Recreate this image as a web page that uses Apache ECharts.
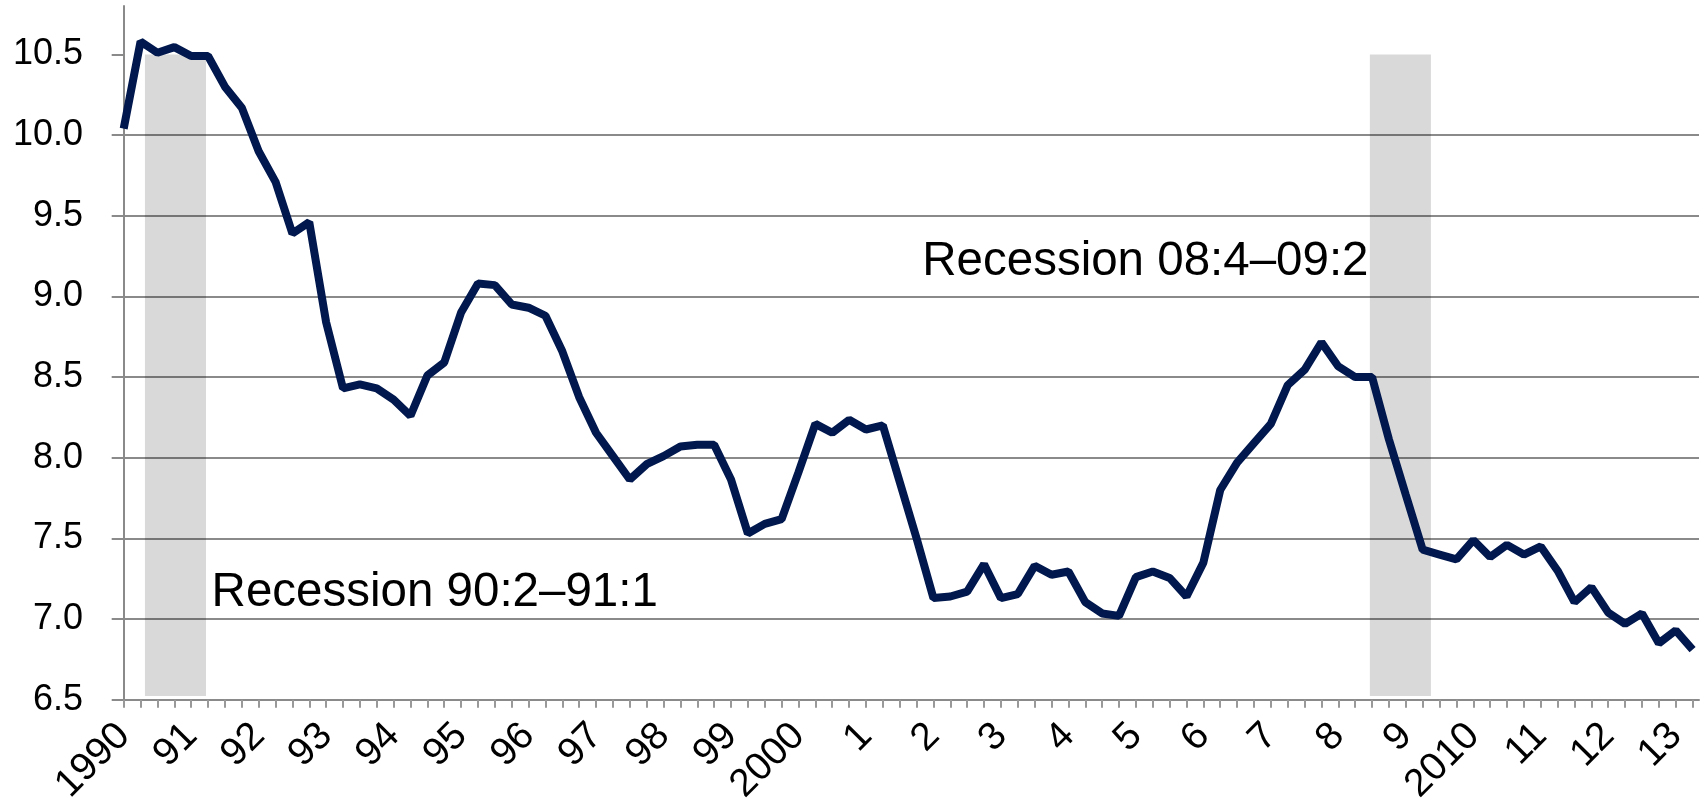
<!DOCTYPE html>
<html>
<head>
<meta charset="utf-8">
<title>Rate 1990-2013</title>
<script src="https://cdn.jsdelivr.net/npm/echarts@6/dist/echarts.min.js"></script>
<style>
  html, body { margin: 0; padding: 0; background: #fff; }
  #chart { width: 1708px; height: 807px; }
</style>
</head>
<body>
<div id="chart"></div>
<script>
// quarterly values, 1990:1 .. 2013:2
var rateValues = [
  10.04, 10.58, 10.51, 10.545, 10.49, 10.49, 10.30, 10.17, 9.90, 9.71,
  9.39, 9.46, 8.84, 8.43, 8.455, 8.43, 8.36, 8.26, 8.51, 8.59,
  8.90, 9.08, 9.07, 8.95, 8.93, 8.88, 8.66, 8.375, 8.155, 8.01,
  7.865, 7.96, 8.01, 8.07, 8.08, 8.08, 7.865, 7.53, 7.59, 7.62,
  7.91, 8.21, 8.155, 8.235, 8.175, 8.20, 7.85, 7.50, 7.13, 7.14,
  7.17, 7.34, 7.13, 7.155, 7.33, 7.275, 7.295, 7.105, 7.035, 7.02,
  7.26, 7.295, 7.255, 7.14, 7.35, 7.80, 7.97, 8.09, 8.21, 8.45,
  8.545, 8.715, 8.566, 8.50, 8.50, 8.114, 7.77, 7.43, 7.40, 7.37,
  7.49, 7.385, 7.46, 7.40, 7.45, 7.30, 7.105, 7.198, 7.04, 6.97,
  7.035, 6.85, 6.93, 6.81
];

// one label per year (every 4th quarter)
var yearLabels = [
  '1990', '91', '92', '93', '94', '95', '96', '97', '98', '99',
  '2000', '1', '2', '3', '4', '5', '6', '7', '8', '9',
  '2010', '11', '12', '13'
];

var yTicks = [6.5, 7.0, 7.5, 8.0, 8.5, 9.0, 9.5, 10.0, 10.5];

// recession shading, in quarter-index units
var recessions = [[1.26, 4.88], [73.87, 77.49]];
var recessionTop = 10.5;
var recessionBottom = 6.523;
var recessionNotes = ['Recession 90:2–91:1', 'Recession 08:4–09:2'];

var gridColor = '#8a8a8a';
var font = 'Liberation Sans, Arial, sans-serif';

function renderChart() {
  var myChart = echarts.init(document.getElementById('chart'));

  var lineData = rateValues.map(function (v, i) { return [i, v]; });
  var tickIdx = rateValues.map(function (v, i) { return i; });
  var labelIdx = yearLabels.map(function (l, i) { return i * 4; });

  var options = {
    backgroundColor: '#fff',
    animation: false,
    grid: { left: 116, right: 9, top: 6, bottom: 95.5 },
    xAxis: {
      type: 'value',
      min: -0.456,
      max: 93.38,
      axisLine: { show: true, onZero: false, lineStyle: { color: gridColor, width: 2 } },
      axisTick: { show: true, length: 8, customValues: tickIdx, lineStyle: { color: '#999', width: 2 } },
      axisLabel: {
        customValues: labelIdx,
        formatter: function (v) { return yearLabels[Math.round(v / 4)]; },
        rotate: 45,
        margin: 30,
        fontSize: 39,
        color: '#000',
        fontFamily: font
      },
      splitLine: { show: false }
    },
    yAxis: {
      type: 'value',
      min: 6.5,
      max: 10.8,
      interval: 0.5,
      axisLine: { show: true, lineStyle: { color: gridColor, width: 2 } },
      axisTick: { show: true, length: 12, customValues: yTicks, lineStyle: { color: gridColor, width: 2 } },
      axisLabel: {
        customValues: yTicks,
        formatter: function (v) { return v.toFixed(1); },
        margin: 33,
        fontSize: 36,
        color: '#000',
        fontFamily: font
      },
      splitLine: { show: true, showMaxLine: false, lineStyle: { color: gridColor, width: 2 } }
    },
    series: [
      {
        // grey bands
        type: 'line',
        data: [],
        z: 1,
        markArea: {
          silent: true,
          itemStyle: { color: 'rgba(0,0,0,0.15)' },
          data: recessions.map(function (r) {
            return [{ xAxis: r[0], yAxis: recessionTop }, { xAxis: r[1], yAxis: recessionBottom }];
          })
        }
      },
      {
        type: 'line',
        data: lineData,
        z: 3,
        symbol: 'none',
        lineStyle: { color: '#00184d', width: 8 },
        markPoint: {
          silent: true,
          symbol: 'rect',
          symbolSize: 1,
          itemStyle: { color: 'transparent' },
          label: { show: true, distance: 0, fontSize: 47.5, color: '#000', fontFamily: font },
          data: [
            { coord: [5.18, 7.165], label: { position: 'right', formatter: recessionNotes[0] } },
            { coord: [73.82, 9.215], label: { position: 'left', formatter: recessionNotes[1] } }
          ]
        }
      }
    ]
  };

  myChart.setOption(options, true);
}

renderChart();
</script>
</body>
</html>
